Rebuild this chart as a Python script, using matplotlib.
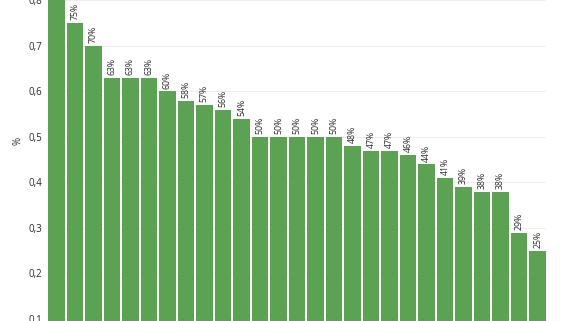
import matplotlib.pyplot as plt

plt.rcParams['font.family'] = ['Open Sans', 'DejaVu Sans']

# values (first bar runs past the top of the crop)
categories = [f'c{i}' for i in range(1, 28)]
values = [0.88, 0.75, 0.70, 0.63, 0.63, 0.63, 0.60, 0.58, 0.57, 0.56, 0.54,
          0.50, 0.50, 0.50, 0.50, 0.50, 0.48, 0.47, 0.47, 0.46, 0.44, 0.41,
          0.39, 0.38, 0.38, 0.29, 0.25]
labels = [f'{round(v * 100)}%' for v in values]
yticks = [0.1, 0.2, 0.3, 0.4, 0.5, 0.6, 0.7, 0.8]
ytop = 0.801

fig = plt.figure(figsize=(5.7, 3.21), dpi=100)
ax = fig.add_axes([48 / 570, 0, 498 / 570, 1])

x = list(range(len(values)))
ax.bar(x, values, width=0.9, color='#5ba352', zorder=2)

for xi, v, lab in zip(x, values, labels):
    if v > ytop:  # label sits outside the visible area
        continue
    ax.text(xi, v + 0.006, lab, rotation=90, ha='center', va='bottom',
            fontsize=6.3, color='#2b2b2b', zorder=3)

ax.set_xlim(-0.45, len(values) - 0.55)
ax.set_ylim(0.0956, ytop)
ax.set_yticks(yticks)
ax.set_yticklabels([f'{t:.1f}'.replace('.', ',') for t in yticks],
                   fontsize=7, color='#2b2b2b')
ax.set_xticks([])
ax.tick_params(axis='y', length=0, pad=4)
ax.grid(axis='y', color='#eeeeee', linewidth=0.8, zorder=0)
for s in ax.spines.values():
    s.set_visible(False)

fig.text(18 / 570, 1 - 141 / 321, '%', rotation=90, ha='center', va='center',
         fontsize=7, color='#2b2b2b')

fig.savefig('out.png', dpi=100)
